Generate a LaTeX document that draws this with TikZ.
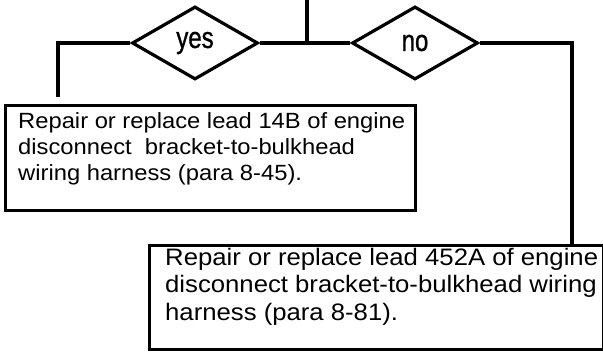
\documentclass[tikz,border=0pt]{standalone}
\usepackage{fontspec}
\setmainfont{Liberation Sans}
\newfontfamily\answerfont[FakeStretch=0.8, FakeBold=1]{Liberation Sans}
\newfontfamily\fixfont[FakeStretch=1.08]{Liberation Sans}
\usetikzlibrary{positioning, shapes.geometric}
\tikzset{>=latex}
\tikzset{
	query/.style={draw, diamond, line width=3.2pt, minimum width=126pt, minimum height=73pt, inner sep=0pt, font=\answerfont\fontsize{30}{32}\selectfont},
	fixbox/.style={draw, rectangle, line width=3.2pt, inner sep=0pt, anchor=north west},
	fixtext/.style={align=left, inner sep=0pt, anchor=north west},
	wire/.style={line width=3.2pt}
}

\begin{document}
\begin{tikzpicture}[x=1pt, y=-1pt]
		\useasboundingbox (0,0) rectangle (603,352);
		% Decision
		\coordinate (feed) at (307,0);
		\node[query] (yes) at (195,43) {yes};
		\node[query] (no) at (415,43) {no};
		% Fixes
		\node[fixbox, minimum width=410pt, minimum height=105pt] (fix1) at (4,104) {};
		\node[fixtext, font=\fixfont\fontsize{22}{26}\selectfont] (fix1txt) at (18,112)
			{Repair or replace lead 14B of engine\\disconnect\ \ bracket-to-bulkhead\\wiring harness (para 8-45).};
		\node[fixbox, minimum width=454pt, minimum height=104pt] (fix2) at (148,244) {};
		\node[fixtext, font=\fixfont\fontsize{23.8}{27.5}\selectfont] (fix2txt) at (165,248)
			{Repair or replace lead 452A of engine\\disconnect bracket-to-bulkhead wiring\\harness (para 8-81).};
		% Turn points
		\coordinate (lturn) at (58,43);
		\coordinate (lend) at (58,97);
		\coordinate (rturn) at (572,43);
		% Lines
		\draw[wire] (feed) -- (feed |- yes.east);
		\draw[wire] (yes.east) -- (no.west);
		\draw[wire] (yes.west) -- (lturn) -- (lend);
		\draw[wire] (no.east) -- (rturn) -- (rturn |- fix2.north);
	\end{tikzpicture}
\end{document}
